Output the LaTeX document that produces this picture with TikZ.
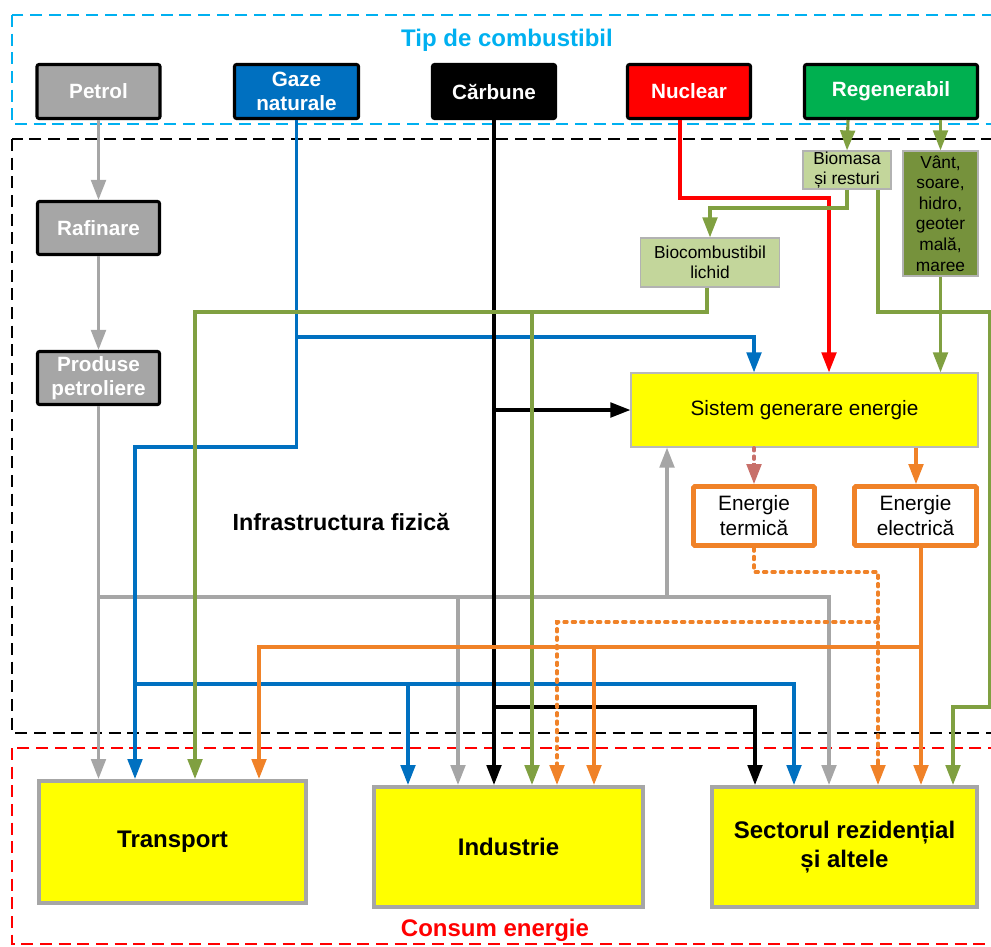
\documentclass[tikz,border=0pt]{standalone}
\usepackage{fontspec}
\setmainfont{Liberation Sans}
\usetikzlibrary{arrows.meta}
\definecolor{cyanT}{RGB}{0,176,240}
\definecolor{gBox}{RGB}{166,166,166}
\definecolor{gLine}{RGB}{166,166,166}
\definecolor{bBox}{RGB}{0,112,192}
\definecolor{rBox}{RGB}{255,0,0}
\definecolor{grBox}{RGB}{0,176,80}
\definecolor{olive}{RGB}{128,160,65}
\definecolor{bioFill}{RGB}{195,214,155}
\definecolor{vantFill}{RGB}{118,146,60}
\definecolor{orng}{RGB}{240,130,40}
\definecolor{pinkR}{RGB}{200,112,106}
\definecolor{yel}{RGB}{255,255,0}
\begin{document}
\begin{tikzpicture}[x=0.75pt,y=-0.75pt,
  fuel/.style={draw=black, line width=2.3pt, rounded corners=1.5pt, inner sep=0pt, align=center, text=white, font=\fontsize{15.5}{18}\selectfont\bfseries},
  cons/.style={draw=gLine, line width=3pt, fill=yel, inner sep=0pt, align=center, font=\fontsize{18}{21.75}\selectfont\bfseries},
  ebox/.style={draw=orng, line width=3.6pt, fill=white, inner sep=0pt, align=center, font=\fontsize{15.6}{18.75}\selectfont, rounded corners=1pt},
  smallbox/.style={draw=gray!60, line width=0.9pt, inner sep=0pt, align=center, font=\fontsize{13}{15.4}\selectfont},
  ln/.style={line width=2.3pt},
  arr/.style={-{Triangle[length=15pt,width=11pt]}},
  dotl/.style={line width=2.3pt, dash pattern=on 2.5pt off 3.8pt, line cap=round},
  frame/.style={line width=1.5pt, dash pattern=on 9pt off 5pt}
]
\useasboundingbox (0,0) rectangle (991,946);

% frames
\draw[frame, draw=cyanT] (12,15) rectangle (1010,124);
\draw[frame, draw=black] (12,139) rectangle (1010,733);
\draw[frame, draw=red] (12,748) rectangle (1010,944);

\node[font=\fontsize{18}{21}\selectfont\bfseries, text=cyanT] (title) at (507,40) {Tip de combustibil};
\node[font=\fontsize{17.5}{21}\selectfont\bfseries] (infra) at (341,522) {Infrastructura fizică};
\node[font=\fontsize{18}{21}\selectfont\bfseries, text=red] (consum) at (495,930) {Consum energie};

% fuel boxes
\node[fuel, fill=gBox, minimum width=92.25pt, minimum height=40.5pt] (petrol) at (98.5,91.5) {Petrol};
\node[fuel, fill=bBox, minimum width=93pt, minimum height=40.5pt] (gaze) at (296.5,91.5) {Gaze\\naturale};
\node[fuel, fill=black, minimum width=92.25pt, minimum height=40.5pt] (carb) at (494,91.5) {Cărbune};
\node[fuel, fill=rBox, minimum width=92.25pt, minimum height=40.5pt] (nuc) at (689,91.5) {Nuclear};
\node[fuel, fill=grBox, minimum width=129.75pt, minimum height=40.5pt] (reg) at (891,91.5) {Regenerabil};

\node[fuel, fill=gBox, minimum width=91.5pt, minimum height=39.75pt] (raf) at (98.5,228) {Rafinare};
\node[fuel, fill=gBox, minimum width=91.5pt, minimum height=39.75pt] (prod) at (98.5,378) {Produse\\petroliere};

% renewables
\node[smallbox, fill=bioFill, minimum width=66pt, minimum height=28.5pt] (bio) at (847,170) {Biomasa\\și resturi};
\node[smallbox, fill=vantFill, minimum width=56.25pt, minimum height=93.75pt] (vant) at (940.5,213.5) {Vânt,\\soare,\\hidro,\\geoter\\mală,\\maree};
\node[smallbox, fill=bioFill, minimum width=104.25pt, minimum height=36.75pt] (liq) at (710,262.5) {Biocombustibil\\lichid};

% system
\node[draw=gray!55, line width=0.9pt, fill=yel, inner sep=0pt, minimum width=260.25pt, minimum height=55.5pt, font=\fontsize{15.6}{18}\selectfont] (sys) at (804.5,410) {Sistem generare energie};
\node[ebox, minimum width=90.75pt, minimum height=44.25pt] (term) at (754,516) {Energie\\termică};
\node[ebox, minimum width=91.5pt, minimum height=44.25pt] (elec) at (915.5,516) {Energie\\electrică};

% consumers
\node[cons, minimum width=200.25pt, minimum height=91.5pt] (tra) at (172.5,842) {Transport};
\node[cons, minimum width=201.75pt, minimum height=90pt] (ind) at (508.5,847) {Industrie};
\node[cons, minimum width=198.75pt, minimum height=90pt] (sec) at (844.5,847) {Sectorul rezidențial\\și altele};

% ---- gray (petroleum) ----
\draw[ln, gLine, arr] (petrol.south) -- (raf.north);
\draw[ln, gLine, arr] (raf.south) -- (prod.north);
\draw[ln, gLine, arr] (prod.south) -- (prod.south |- tra.north);
\draw[ln, gLine, arr] (prod.south |- 0,597) -| (829,0 |- sec.north);
\draw[ln, gLine, arr] (458,597) -- (458,0 |- ind.north);
\draw[ln, gLine, arr] (667,597) -- (667,0 |- sys.south);

% ---- blue (gas) ----
\draw[ln, bBox, arr] (gaze.south) -- (296.5,447) -| (135,0 |- tra.north);
\draw[ln, bBox, arr] (296.5,337) -| (754,0 |- sys.north);
\draw[ln, bBox, arr] (135,684) -| (794,0 |- sec.north);
\draw[ln, bBox, arr] (408,685) -- (408,0 |- ind.north);

% ---- black (coal) ----
\draw[ln, black, arr] (carb.south) -- (carb.south |- ind.north);
\draw[ln, black, arr] (carb.south |- sys.west) -- (sys.west);
\draw[ln, black, arr] (494,707) -| (755,0 |- sec.north);

% ---- red (nuclear) ----
\draw[ln, rBox, arr] (680,0 |- nuc.south) |- (829,198) -- (829,0 |- sys.north);

% ---- green (renewables) ----
\draw[ln, olive, arr] (848,0 |- reg.south) -- (bio.north);
\draw[ln, olive, arr] (940.5,0 |- reg.south) -- (vant.north);
\draw[ln, olive, arr] (bio.south) |- (710,208) -- (liq.north);
\draw[ln, olive, arr] (878,0 |- bio.south) |- (990,312) |- (953,707) -- (953,0 |- sec.north);
\draw[ln, olive, arr] (vant.south) -- (vant.south |- sys.north);
\draw[ln, olive, arr] (707,0 |- liq.south) |- (195,312) -- (195,0 |- tra.north);
\draw[ln, olive, arr] (532,312) -- (532,0 |- ind.north);

% ---- orange (electricity / heat) ----
\draw[dotl, pinkR] (sys.south -| term.north) -- ++(0,17);
\draw[ln, pinkR, arr] (754,463) -- (term.north);
\draw[ln, orng, arr] (sys.south -| 916,0) -- (916,0 |- elec.north);
\draw[ln, orng, arr] (921,0 |- elec.south) -- (921,0 |- sec.north);
\draw[ln, orng, arr] (921,647) -| (259,0 |- tra.north);
\draw[ln, orng, arr] (594,647) -- (594,0 |- ind.north);
\draw[dotl, orng] (term.south) |- (878,572) -- (878,760);
\draw[ln, orng, arr] (878,760) -- (878,0 |- sec.north);
\draw[dotl, orng] (878,622) -| (557,765);
\draw[ln, orng, arr] (557,765) -- (557,0 |- ind.north);
\end{tikzpicture}
\end{document}
